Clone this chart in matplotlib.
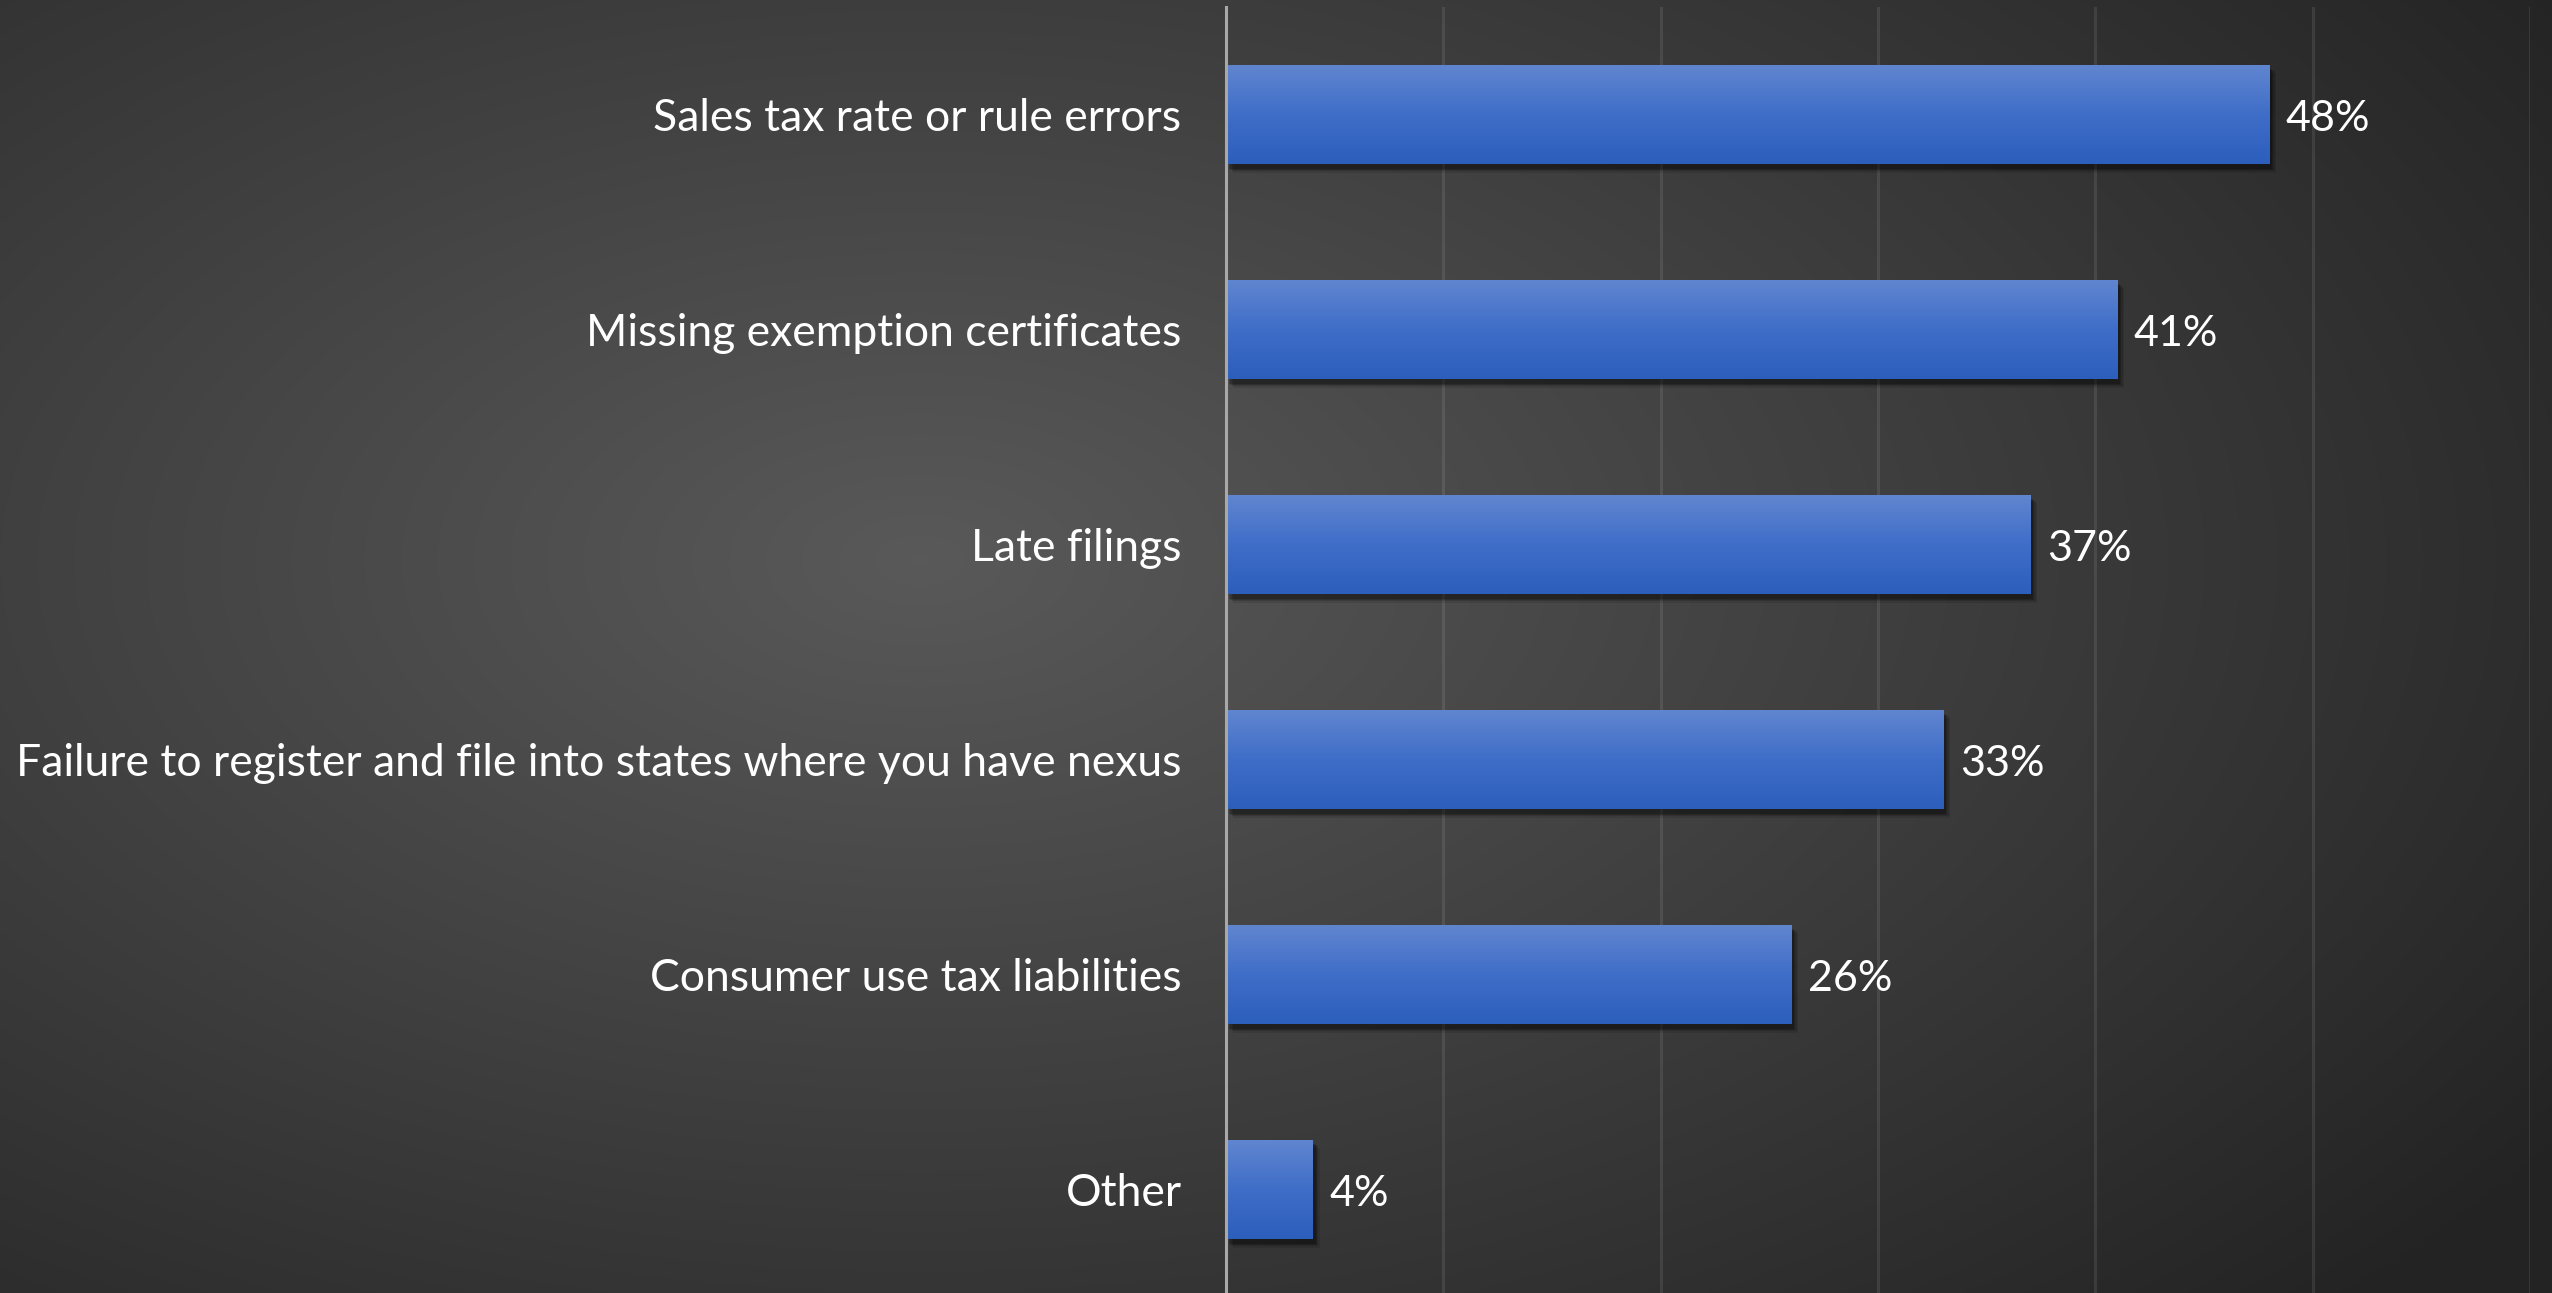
import numpy as np
import matplotlib
matplotlib.use("Agg")
import matplotlib.pyplot as plt
import matplotlib.patheffects as pe
from matplotlib.colors import LinearSegmentedColormap

categories = [
    "Sales tax rate or rule errors",
    "Missing exemption certificates",
    "Late filings",
    "Failure to register and file into states where you have nexus",
    "Consumer use tax liabilities",
    "Other",
]
values = [0.48, 0.41, 0.37, 0.33, 0.26, 0.04]
value_labels = ["48%", "41%", "37%", "33%", "26%", "4%"]
x_ticks = [0.0, 0.1, 0.2, 0.3, 0.4, 0.5, 0.6]

plt.rcParams['font.family'] = ['Lato', 'DejaVu Sans']

W, H, DPI = 2552, 1293, 100
fig = plt.figure(figsize=(W / DPI, H / DPI), dpi=DPI)

# radial background
bg = fig.add_axes([0, 0, 1, 1], zorder=-10)
bg.set_axis_off()
yy, xx = np.mgrid[0:H, 0:W]
cx, cy = 920, 560
r = np.sqrt(((xx - cx) / 1950.0) ** 2 + ((yy - cy) / 1080.0) ** 2)
r = np.clip(r, 0, 1)
c_in, c_out = 0.35, 0.14
img = c_in + (c_out - c_in) * r ** 1.0
bg.imshow(np.dstack([img, img, img]), extent=[0, 1, 0, 1], aspect='auto', origin='upper')
bg.set_xlim(0, 1); bg.set_ylim(0, 1)

ax = fig.add_axes([1226 / W, -4 / H, (2530 - 1226) / W, 1290 / H])
ax.set_facecolor('none')

n = len(categories)
y = np.arange(n)
bar_h = 0.465
bars = ax.barh(y, values, height=bar_h, color='#3f6fc9', zorder=3)

cmap = LinearSegmentedColormap.from_list('b', ['#6186d0', '#3f6ec8', '#2c5ebc'])
grad = np.linspace(0, 1, 256).reshape(-1, 1)
shadow = [pe.SimplePatchShadow(offset=(o, -o - 1), shadow_rgbFace='black', alpha=a)
          for o, a in [(5, 0.10), (4, 0.14), (3, 0.18), (2, 0.2)]]
for b in bars:
    b.set_path_effects(shadow + [pe.Normal()])
    x0, y0 = b.get_x(), b.get_y()
    w, h = b.get_width(), b.get_height()
    im = ax.imshow(grad, cmap=cmap, extent=[x0, x0 + w, y0 + h, y0], aspect='auto',
                   zorder=4, origin='upper', interpolation='bilinear')
    im.set_clip_path(b)

ax.set_xlim(x_ticks[0], x_ticks[-1])
ax.set_ylim(n - 0.5, -0.5)

for yi, v, lab in zip(y, values, value_labels):
    ax.annotate(lab, (v, yi), xytext=(12, -3), textcoords='offset points',
                va='center', ha='left', color='white', fontsize=31, zorder=6)

ax.set_yticks(y)
ax.set_yticklabels(categories, color='white', fontsize=32)
ax.tick_params(axis='y', length=0, pad=32)
ax.set_xticks(x_ticks)
ax.tick_params(axis='x', length=0, labelbottom=False)
ax.grid(axis='x', color='#ffffff', alpha=0.09, linewidth=2.2, zorder=0)
ax.set_axisbelow(True)
for s in ['top', 'right', 'bottom']:
    ax.spines[s].set_visible(False)
ax.spines['left'].set_color('#a8a8a8')
ax.spines['left'].set_linewidth(2.2)
ax.spines['left'].set_zorder(5)

fig.savefig('out.png', dpi=DPI)
